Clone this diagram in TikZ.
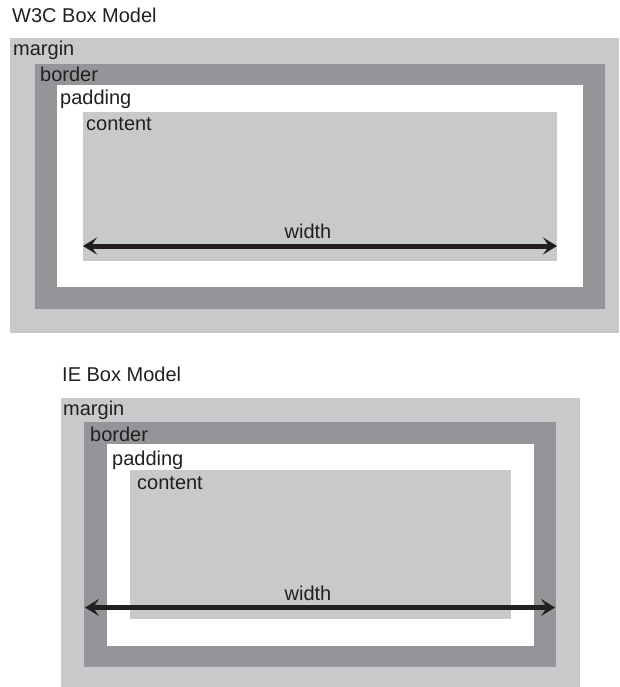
\documentclass[tikz,border=0pt]{standalone}
\usepackage{fontspec}
\setmainfont{Liberation Sans}
\usepackage{xcolor}
\usetikzlibrary{positioning,arrows.meta}

\definecolor{lightbox}{HTML}{C8C9CB}
\definecolor{darkbox}{HTML}{939598}
\definecolor{inkblack}{HTML}{231F20}

\begin{document}
\begin{tikzpicture}[
  x=1pt, y=-1pt,
  box/.style={rectangle, draw=none, inner sep=0pt, outer sep=0pt, anchor=north west},
  marginb/.style={box, fill=lightbox},
  borderb/.style={box, fill=darkbox},
  paddingb/.style={box, fill=white},
  contentb/.style={box, fill=lightbox},
  lbl/.style={font=\fontsize{20}{24}\selectfont, text=inkblack, inner sep=0pt, anchor=base west},
  widtharrow/.style={{Stealth[length=14pt, width=17pt, inset=6pt]}-{Stealth[length=14pt, width=17pt, inset=6pt]}, line width=5pt, draw=inkblack},
]
\useasboundingbox (0,0) rectangle (619,687);

% W3C box model (top)
\node[lbl] (w3ctitle) at (12,23) {W3C Box Model};
\node[marginb, minimum width=609pt, minimum height=295pt] (w3cm) at (10,38) {};
\node[borderb, minimum width=570pt, minimum height=245pt] (w3cb) at (35,64) {};
\node[paddingb, minimum width=526pt, minimum height=202pt] (w3cp) at (57,85) {};
\node[contentb, minimum width=474pt, minimum height=149pt] (w3cc) at (83,112) {};

\node[lbl] (w3cml) at ([xshift=3pt, yshift=-18pt]w3cm.north west) {margin};
\node[lbl] (w3cbl) at ([xshift=5pt, yshift=-18pt]w3cb.north west) {border};
\node[lbl] (w3cpl) at ([xshift=3pt, yshift=-20pt]w3cp.north west) {padding};
\node[lbl] (w3ccl) at ([xshift=3pt, yshift=-19pt]w3cc.north west) {content};

% width spans the content only
\coordinate (w3cleft) at (83,246);
\coordinate (w3cright) at (557,246);
\draw[widtharrow] (w3cleft) -- (w3cright);
\node[lbl, anchor=base] (w3cwl) at (308,238) {width};

% IE box model (bottom)
\node[lbl] (ietitle) at (62,381) {IE Box Model};
\node[marginb, minimum width=519pt, minimum height=289pt] (iem) at (61,398) {};
\node[borderb, minimum width=472pt, minimum height=245pt] (ieb) at (84,422) {};
\node[paddingb, minimum width=427pt, minimum height=202pt] (iep) at (107,444) {};
\node[contentb, minimum width=381pt, minimum height=149pt] (iec) at (130,470) {};

\node[lbl] (ieml) at ([xshift=2pt, yshift=-17pt]iem.north west) {margin};
\node[lbl] (iebl) at ([xshift=6pt, yshift=-19pt]ieb.north west) {border};
\node[lbl] (iepl) at ([xshift=5pt, yshift=-21pt]iep.north west) {padding};
\node[lbl] (iecl) at ([xshift=7pt, yshift=-19pt]iec.north west) {content};

% width spans content + padding + border
\coordinate (ieleft) at (85,607.5);
\coordinate (ieright) at (555,607.5);
\draw[widtharrow] (ieleft) -- (ieright);
\node[lbl, anchor=base] (iewl) at (308,600) {width};

\end{tikzpicture}
\end{document}
